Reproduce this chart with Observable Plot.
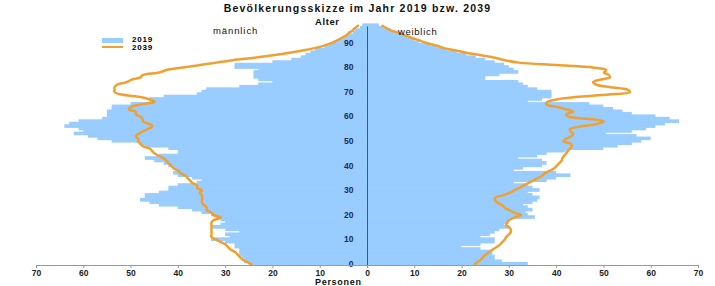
<!DOCTYPE html>
<html>
<head>
<meta charset="utf-8">
<script src="https://cdn.jsdelivr.net/npm/d3@7"></script>
<script src="https://cdn.jsdelivr.net/npm/@observablehq/plot@0.6"></script>
<style>
  html, body { margin: 0; padding: 0; background: #fff; }
  #wrap { position: relative; width: 715px; height: 286px; font-family: "Liberation Sans", Arial, sans-serif; }
  .lbl { position: absolute; white-space: nowrap; line-height: 1; color: #111; }
  #title { left: 0; width: 715px; text-align: center; top: 3px; font-size: 10.5px; font-weight: bold; letter-spacing: 1.2px; }
  #alter { left: 315px; top: 17px; font-size: 9.5px; font-weight: bold; letter-spacing: 0.6px; }
  #maenn { left: 213px; top: 26px; font-size: 9.5px; letter-spacing: 0.9px; }
  #weib { left: 398px; top: 27px; font-size: 9.5px; letter-spacing: 0.7px; }
  #personen { left: 315px; top: 278px; font-size: 9px; font-weight: bold; letter-spacing: 0.7px; }
  .leg { position: absolute; font-size: 8px; font-weight: bold; letter-spacing: 0.8px; line-height: 1; }
</style>
</head>
<body>
<div id="wrap">
  <div id="chart"></div>
  <div class="lbl" id="title">Bevölkerungsskizze im Jahr 2019 bzw. 2039</div>
  <div class="lbl" id="alter">Alter</div>
  <div class="lbl" id="maenn">männlich</div>
  <div class="lbl" id="weib">weiblich</div>
  <div class="lbl" id="personen">Personen</div>
  <div style="position:absolute;left:102px;top:38px;width:21px;height:5px;background:#99ccff"></div>
  <div class="leg" style="left:132px;top:36px;">2019</div>
  <div style="position:absolute;left:102px;top:45.5px;width:21px;height:2.5px;background:#f0a030"></div>
  <div class="leg" style="left:132px;top:44px;">2039</div>
</div>
<script>
// Ages 0..97
const ages = d3.range(0, 98);

const male2019 = [25,26,26,26.5,27,27,27,28,28,30,
  33,29,30,27,30,33,31,30,31,32,
  33,35,37,40,44,46,48,47,47,44,
  42,42,40,36,35,37,40,41,40,41,
  42,43,45,47,44,40,40,42,47,48,
  54,57,59,62,60,61,64,63,61,56,
  55,55,55,54,54,50,46,46,43,36,
  35,34,27,23,20,23,24,24,24,23,
  28,28,20,16,14,13,12,11,9,8,
  7,6,5,4,3,2.5,1.5,1];

const female2019 = [34,28.5,27,27,26.5,26,24,20,24,27,
  27,24,26,27,28,30,29,30,30,35.5,
  34,33.5,35,34,33,35,36,36.5,35,34,
  36.5,35,34,31,38,40,43,40,31,33,
  37,38,37,32,36,38,42,50,53,56,
  58,60,57,50.5,56,59,61,63,66,64,
  61,56,54,52,50,47,34,37,39,39,
  39,36,34,33,32,25,25,28,32,31,
  30,29,27,25,23,21,19,17,15,13.5,
  11,10,8.5,7.5,6,5,3.5,2.5];

const male2039 = [24.5,25.5,26.5,27,27.5,28,29,29.5,30,31,
  32,33,33,33,33,33,33,33,32.5,31,
  32.5,33,34,34,34.5,35,35,35,35,35.5,
  35,36,36,37,37.5,38,38.5,39.5,40,41,
  41.5,42,42.5,43,44,45,45.5,46,47.5,48,
  48.5,48.5,49,48.5,47.5,46.5,45.5,46,47.5,47.5,
  48,49,49,50.5,50,48,45,46,48,52,
  53.5,53.5,53.5,53,51,50,48,47.5,44,42.5,
  39,35.5,32,28.5,24,20,16.5,13.5,11,9,
  7.5,6.5,5.5,4.5,4,3.2,2.7,2];

const female2039 = [22.7,23.3,24,24.5,25,25.8,26.5,27.3,28,28.5,
  29,29.3,29.8,30.3,30.3,30,29.3,29.5,30,31,
  32.5,31,30,29,28.5,27.5,27,27,28.5,30,
  31,32,33,34,35,36,37,37.5,38.5,39.5,
  40,40.5,41,41.2,41.5,42,42.3,42.8,43.2,43,
  41.4,42,43,43.5,43,42.8,45,48.4,50,47.7,
  42.5,42,43.5,42,40,37.8,38,40,44,51,
  55.5,55,51.3,48.4,47.7,49,51.3,51,50,50.5,
  47.7,40,32,29,27,24,20.8,18.5,16,14.5,
  12.5,11,9.5,8,6.8,5,4,3.2];

const xTicks = [-70,-60,-50,-40,-30,-20,-10,0,10,20,30,40,50,60,70];
const yTicks = [0,10,20,30,40,50,60,70,80,90];

const bars = ages.flatMap((a, i) => [
  {age: a, v: -male2019[i]},
  {age: a, v: female2019[i]}
]);
const lineM = ages.map((a, i) => ({age: a, v: -male2039[i]}));
const lineF = ages.map((a, i) => ({age: a, v: female2039[i]}));

const blue = "#99ccff";
const orange = "#f0a030";

const chart = Plot.plot({
  width: 715,
  height: 286,
  marginLeft: 36,
  marginRight: 17,
  marginTop: 24,
  marginBottom: 21,
  style: {fontFamily: "Liberation Sans, Arial, sans-serif", background: "white"},
  x: {domain: [-70, 70]},
  y: {domain: [-0.5, 97.5], axis: null},
  marks: [
    Plot.rectX(bars, {x1: 0, x2: "v", y1: d => d.age - 0.5, y2: d => d.age + 0.5, fill: blue, insetTop: -0.6, insetBottom: -0.6}),
    Plot.ruleX([0], {y1: -0.5, y2: 96.5, stroke: "#555", strokeWidth: 1}),
    Plot.line(lineM, {x: "v", y: "age", stroke: orange, strokeWidth: 2.5, curve: "catmull-rom"}),
    Plot.line(lineF, {x: "v", y: "age", stroke: orange, strokeWidth: 2.5, curve: "catmull-rom"}),
    Plot.text(yTicks, {x: 0, y: d => d, text: d => String(d), dx: -14, textAnchor: "end", fontSize: 8.5, fontWeight: "bold", fill: "#1c2a5c"}),
    Plot.ruleY([-0.5], {stroke: "#999", strokeWidth: 1}),
    Plot.axisX({ticks: xTicks, tickFormat: d => Math.abs(d), tickSize: 3, tickPadding: 1, label: null, fontSize: 8.5, fontWeight: "bold", stroke: "#999", fill: "#222"})
  ]
});
document.getElementById("chart").appendChild(chart);
</script>
</body>
</html>
